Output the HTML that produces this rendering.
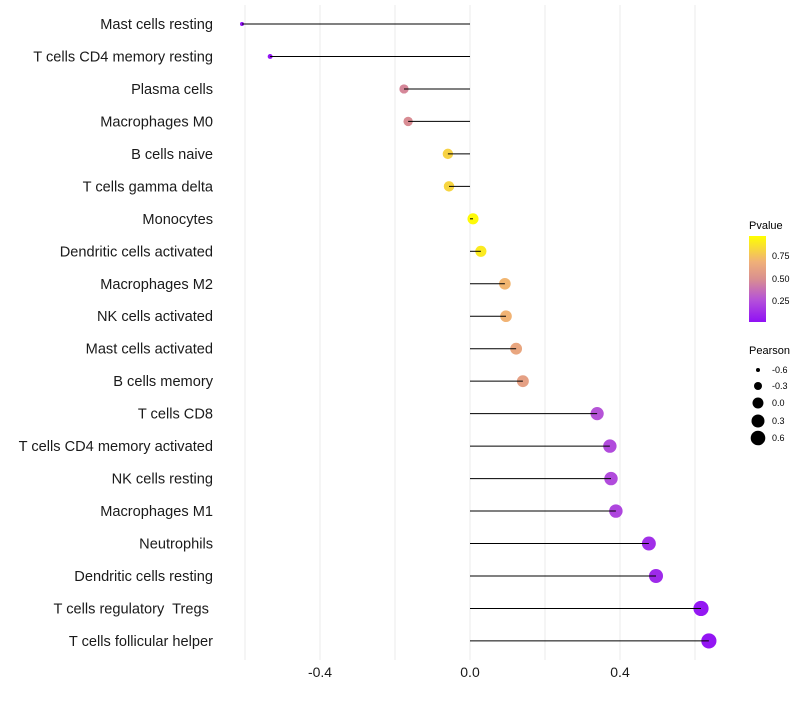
<!DOCTYPE html>
<html><head><meta charset="utf-8"><style>
body{margin:0;background:#fff;}
text{font-family:"Liberation Sans",sans-serif;white-space:pre;}
</style></head><body>
<svg id="chart" width="800" height="700" xmlns="http://www.w3.org/2000/svg">
<defs><linearGradient id="pg" x1="0" y1="1" x2="0" y2="0">
<stop offset="0" stop-color="#9010F5"/><stop offset="0.25" stop-color="#B450DA"/><stop offset="0.5" stop-color="#D98F90"/><stop offset="0.7" stop-color="#F0B078"/><stop offset="1" stop-color="#FFFF00"/></linearGradient></defs>
<g id="grid"></g><g id="dots"></g><g id="marks"></g><g id="labels"></g>
<g>
<text x="749" y="229" font-size="11">Pvalue</text>
<rect x="749" y="236" width="17" height="86" fill="url(#pg)"/>
<text x="772" y="259" font-size="9">0.75</text>
<text x="772" y="282" font-size="9">0.50</text>
<text x="772" y="304" font-size="9">0.25</text>
</g>
<g>
<text x="749" y="354" font-size="11">Pearson</text>
<circle cx="758" cy="370" r="2"/><text x="772" y="373" font-size="9">-0.6</text>
<circle cx="758" cy="386" r="4"/><text x="772" y="389" font-size="9">-0.3</text>
<circle cx="758" cy="403" r="5.5"/><text x="772" y="406" font-size="9">0.0</text>
<circle cx="758" cy="421" r="6.5"/><text x="772" y="424" font-size="9">0.3</text>
<circle cx="758" cy="438" r="7.3"/><text x="772" y="441" font-size="9">0.6</text>
</g>
</svg>
<script>
const categories=["Mast cells resting","T cells CD4 memory resting","Plasma cells","Macrophages M0","B cells naive","T cells gamma delta","Monocytes","Dendritic cells activated","Macrophages M2","NK cells activated","Mast cells activated","B cells memory","T cells CD8","T cells CD4 memory activated","NK cells resting","Macrophages M1","Neutrophils","Dendritic cells resting","T cells regulatory  Tregs ","T cells follicular helper"];
const pearson=[-0.608,-0.533,-0.176,-0.165,-0.059,-0.056,0.008,0.029,0.093,0.096,0.123,0.141,0.339,0.373,0.376,0.389,0.477,0.496,0.616,0.637];
const pvalues=[0.01,0.02,0.47,0.49,0.83,0.84,0.98,0.92,0.72,0.71,0.64,0.6,0.26,0.23,0.23,0.21,0.12,0.1,0.03,0.02];
const xTicks=[-0.4,0.0,0.4];
const gridVals=[-0.6,-0.4,-0.2,0,0.2,0.4,0.6];
const NS="http://www.w3.org/2000/svg";
const xs=v=>470+v*375;
const ys=i=>24+i*32.47;
function rad(v){const a=[[-0.6,2],[-0.3,4],[0,5.5],[0.3,6.5],[0.6,7.3]];if(v<=a[0][0])return a[0][1];for(let k=1;k<a.length;k++){if(v<=a[k][0]){const t=(v-a[k-1][0])/(a[k][0]-a[k-1][0]);return a[k-1][1]+t*(a[k][1]-a[k-1][1]);}}return 7.6;}
const stops=[[0,[144,16,245]],[0.25,[180,80,218]],[0.5,[217,143,144]],[0.7,[240,176,120]],[1,[255,255,0]]];
function col(p){for(let k=1;k<stops.length;k++){if(p<=stops[k][0]){const t=(p-stops[k-1][0])/(stops[k][0]-stops[k-1][0]);const c=stops[k-1][1].map((x,j)=>Math.round(x+t*(stops[k][1][j]-x)));return`rgb(${c})`;}}return"rgb(255,255,0)";}
function mk(tag,at,par){const e=document.createElementNS(NS,tag);for(const k in at)e.setAttribute(k,at[k]);par.appendChild(e);return e;}
const grid=document.getElementById('grid'),dots=document.getElementById('dots'),marks=document.getElementById('marks'),labels=document.getElementById('labels');
gridVals.forEach(v=>{const l=mk('line',{x1:xs(v),x2:xs(v),y1:5,y2:660,stroke:'#ebebeb','stroke-width':1},grid);

});
xTicks.forEach(v=>{const t=mk('text',{x:xs(v),y:677,'font-size':14,'text-anchor':'middle',fill:'#1a1a1a'},labels);t.textContent=v.toFixed(1);

});
categories.forEach((c,i)=>{const y=ys(i);
const d=mk('circle',{cx:xs(pearson[i]),cy:y,r:rad(pearson[i]),fill:col(pvalues[i])},dots);


const s=mk('line',{x1:xs(0),x2:xs(pearson[i]),y1:y,y2:y,stroke:'#000','stroke-width':1},marks);


const t=mk('text',{x:213,y:y+5,'font-size':14.6,'text-anchor':'end',fill:'#1a1a1a'},labels);t.textContent=c;

});
</script>
</body></html>
